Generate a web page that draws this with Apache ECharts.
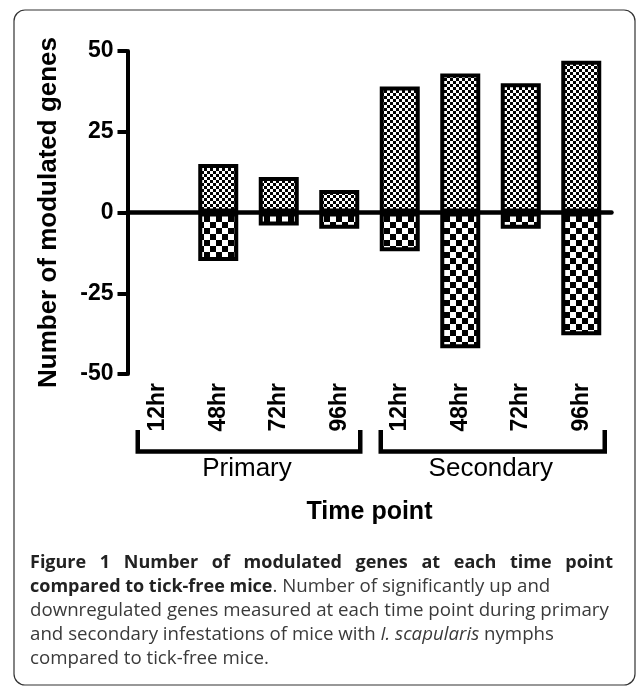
<!DOCTYPE html>
<html>
<head>
<meta charset="utf-8">
<script src="https://cdn.jsdelivr.net/npm/echarts@6/dist/echarts.min.js"></script>
<style>
  html, body { margin: 0; padding: 0; background: #fff; }
  #chart { width: 636px; height: 686px; }
</style>
</head>
<body>
<div id="chart"></div>
<script>
// x轴坐标值
const timePoints = ['12hr', '48hr', '72hr', '96hr', '12hr', '48hr', '72hr', '96hr']
// 上调 / 下调的基因数
const upGenes = [0, 15, 11, 7, 39, 43, 40, 47]
const downGenes = [0, -15, -4, -5, -12, -42, -5, -38]
// y轴刻度
const yTicks = [-50, -25, 0, 25, 50]
// infestation groups (first / last category index)
const groupNames = ['Primary', 'Secondary']
const groupFrom = [0, 4]
const groupTo = [3, 7]

const captionTitle = 'Figure 1 Number of modulated genes at each time point'
const captionLines = [
  '{b|compared to tick-free mice}{r|. Number of significantly up and}',
  '{r|downregulated genes measured at each time point during primary}',
  '{r|and secondary infestations of mice with }{i|I. scapularis}{r| nymphs}',
  '{r|compared to tick-free mice.}'
]

const FONT = 'Liberation Sans, Arial, sans-serif'
const CAP_FONT = '"Open Sans", sans-serif'

// checkerboard fill
function checker(cell) {
  const c = document.createElement('canvas')
  c.width = c.height = cell * 2
  const ctx = c.getContext('2d')
  ctx.fillStyle = '#fff'
  ctx.fillRect(0, 0, cell * 2, cell * 2)
  ctx.fillStyle = '#000'
  ctx.fillRect(0, 0, cell, cell)
  ctx.fillRect(cell, cell, cell, cell)
  return c
}

// zero bars get no outline
function barData(values) {
  return values.map(v => (v === 0 ? { value: v, itemStyle: { borderWidth: 0 } } : v))
}

const chart = echarts.init(document.getElementById('chart'))

chart.setOption({
  animation: false,
  backgroundColor: '#fff',
  textStyle: { fontFamily: FONT, color: '#000' },
  grid: {
    left: 127.5,
    right: 24.5,
    top: 51,
    bottom: 312,
    containLabel: false,
    outerBoundsMode: 'none'
  },
  xAxis: [
    {
      // 零线
      type: 'category',
      data: timePoints,
      position: 'bottom',
      z: 5,
      axisLine: { onZero: true, lineStyle: { color: '#000', width: 4.5 } },
      axisTick: { show: false },
      axisLabel: { show: false },
      splitLine: { show: false }
    },
    {
      type: 'category',
      data: timePoints,
      position: 'bottom',
      axisLine: { show: false, onZero: false },
      axisTick: { show: false },
      splitLine: { show: false },
      axisLabel: {
        rotate: 90,
        margin: 9,
        fontSize: 23,
        fontWeight: 'bold',
        fontFamily: FONT,
        color: '#000'
      },
      name: 'Time point',
      nameLocation: 'middle',
      nameGap: 126,
      nameTextStyle: { fontSize: 25, fontWeight: 'bold', fontFamily: FONT, color: '#000' }
    }
  ],
  yAxis: {
    type: 'value',
    min: yTicks[0],
    max: yTicks[yTicks.length - 1],
    interval: yTicks[1] - yTicks[0],
    axisLine: { show: true, lineStyle: { color: '#000', width: 4 } },
    axisTick: { show: true, length: 10, lineStyle: { color: '#000', width: 4 } },
    splitLine: { show: false },
    axisLabel: {
      margin: 14,
      fontSize: 23,
      fontWeight: 'bold',
      fontFamily: FONT,
      color: '#000'
    },
    name: 'Number of modulated genes',
    nameLocation: 'middle',
    nameGap: 66,
    nameTextStyle: { fontSize: 26, fontWeight: 'bold', fontFamily: FONT, color: '#000' }
  },
  series: [
    {
      name: 'Up',
      type: 'bar',
      stack: 'genes',
      data: barData(upGenes),
      barWidth: 40,
      itemStyle: {
        color: { image: checker(3), repeat: 'repeat' },
        borderColor: '#000',
        borderWidth: 4
      }
    },
    {
      name: 'Down',
      type: 'bar',
      stack: 'genes',
      data: barData(downGenes),
      barWidth: 40,
      itemStyle: {
        color: { image: checker(6), repeat: 'repeat' },
        borderColor: '#000',
        borderWidth: 4
      }
    }
  ]
})

// brackets under the time labels, placed from the category axis
const bracketTop = 430
const bracketBottom = 451.5
const padL = [20, 19]
const padR = [21, 23.5]
const graphics = [
  {
    type: 'rect',
    silent: true,
    shape: { x: 14, y: 10, width: 621, height: 675, r: 11 },
    style: { fill: 'none', stroke: '#333', lineWidth: 1.2 }
  }
]
groupNames.forEach((g, i) => {
  const x1 = chart.convertToPixel({ xAxisIndex: 1 }, groupFrom[i]) - padL[i]
  const x2 = chart.convertToPixel({ xAxisIndex: 1 }, groupTo[i]) + padR[i]
  graphics.push({
    type: 'polyline',
    silent: true,
    shape: { points: [[x1, bracketTop], [x1, bracketBottom], [x2, bracketBottom], [x2, bracketTop]] },
    style: { stroke: '#000', lineWidth: 4.5, fill: 'none', lineJoin: 'miter', lineCap: 'butt' }
  })
  graphics.push({
    type: 'text',
    silent: true,
    style: {
      text: g,
      x: (x1 + x2) / 2 - 2,
      y: 469,
      align: 'center',
      verticalAlign: 'middle',
      font: '26px ' + FONT,
      fill: '#000'
    }
  })
})

// caption
const capLeft = 30
const capRight = 613
const capTop = 563
const capStep = 24
const capRich = {
  b: { fontFamily: CAP_FONT, fontSize: 18, fontWeight: 'bold', fill: '#222' },
  r: { fontFamily: CAP_FONT, fontSize: 18.7, fill: '#3a3a3a' },
  i: { fontFamily: CAP_FONT, fontSize: 18.7, fontStyle: 'italic', fill: '#3a3a3a' }
}

// first caption line is spread to the full width
const measure = document.createElement('canvas').getContext('2d')
measure.font = 'bold 18px ' + CAP_FONT
const words = captionTitle.split(' ')
const wordsW = words.reduce((s, w) => s + measure.measureText(w).width, 0)
const gap = (capRight - capLeft - wordsW) / (words.length - 1)
const titleLine = words.map(w => '{b|' + w + '}').join('{s| }')

const allLines = [titleLine].concat(captionLines)
allLines.forEach((line, i) => {
  graphics.push({
    type: 'text',
    silent: true,
    style: {
      text: line,
      x: capLeft,
      y: capTop + i * capStep,
      align: 'left',
      verticalAlign: 'middle',
      rich: Object.assign({ s: { fontFamily: CAP_FONT, fontSize: 18, width: gap } }, capRich)
    }
  })
})

chart.setOption({ graphic: graphics })
</script>
</body>
</html>
